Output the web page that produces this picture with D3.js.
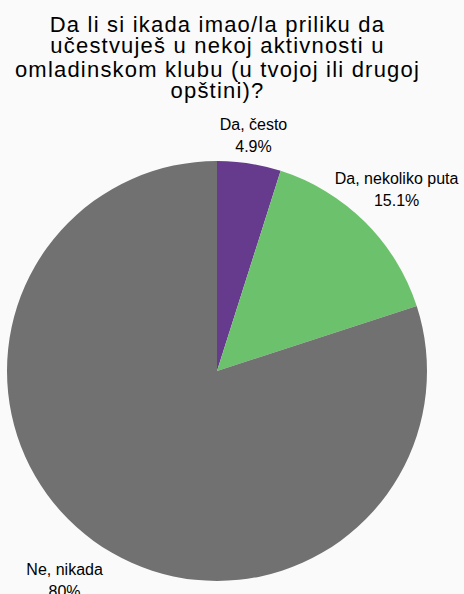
<!DOCTYPE html>
<html>
<head>
<meta charset="utf-8">
<script src="https://cdn.jsdelivr.net/npm/d3@7"></script>
<style>
  html, body { margin: 0; padding: 0; background: #fafafa; }
  svg { display: block; }
  text { font-family: "Liberation Sans", Arial, Helvetica, sans-serif; fill: #000; }
</style>
</head>
<body>
<svg id="chart" width="464" height="594"></svg>
<script>
const titleLines = [
  "Da li si ikada imao/la priliku da",
  "učestvuješ u nekoj aktivnosti u",
  "omladinskom klubu (u tvojoj ili drugoj",
  "opštini)?"
];
const categories = ["Da, često", "Da, nekoliko puta", "Ne, nikada"];
const values = [4.9, 15.1, 80];
const valueLabels = ["4.9%", "15.1%", "80%"];
const colors = ["#663a8c", "#6cc16c", "#717171"];

const W = 464, H = 594;
const cx = 217, cy = 371, R = 210;

const svg = d3.select("#chart");
svg.append("rect").attr("width", W).attr("height", H).attr("fill", "#fafafa");

// Title
const title = svg.append("text")
  .attr("text-anchor", "middle")
  .style("font-size", "22px")
  .style("letter-spacing", "1.2px");
const titleBaselines = [32, 53, 77, 98];
titleLines.forEach((line, i) => {
  title.append("tspan")
    .attr("x", 217.5)
    .attr("y", titleBaselines[i])
    .text(line);
});

// Pie
const pie = d3.pie().sort(null).value(d => d);
const arcs = pie(values);
const arc = d3.arc().innerRadius(0).outerRadius(R);

const g = svg.append("g").attr("transform", `translate(${cx},${cy})`);
g.selectAll("path.slice")
  .data(arcs)
  .join("path")
  .attr("class", "slice")
  .attr("d", arc)
  .attr("fill", (d, i) => colors[i]);

// Outside labels, pushed along the mid-angle ray
const lineH = 22;
arcs.forEach((d, i) => {
  const lab = g.append("text")
    .attr("text-anchor", "middle")
    .style("font-size", "16px");
  lab.append("tspan").attr("x", 0).attr("dy", 0).text(categories[i]);
  lab.append("tspan").attr("x", 0).attr("dy", lineH).text(valueLabels[i]);
  const bb = lab.node().getBBox();
  const w = bb.width, h = 2 * lineH;
  const mid = (d.startAngle + d.endAngle) / 2;
  const sx = Math.sin(mid), sy = -Math.cos(mid);
  const dist = R + 4 + 0.6 * Math.abs(w / 2 * sx) + Math.abs(h / 2 * sy) + (sy > 0 ? 14 : -1);
  const px = dist * sx, py = dist * sy;
  lab.attr("transform", `translate(${px},${py - lineH / 2 + 5})`);
});
</script>
</body>
</html>
